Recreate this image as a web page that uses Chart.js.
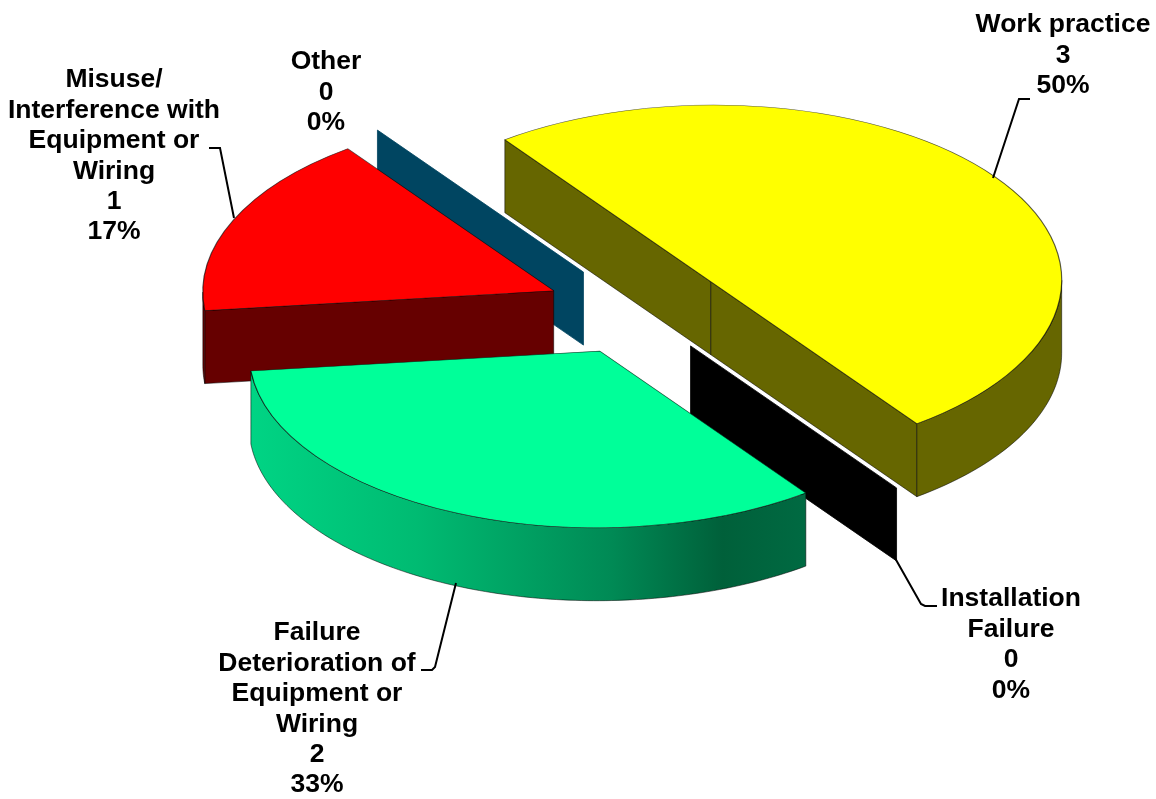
<!DOCTYPE html>
<html>
<head>
<meta charset="utf-8">
<title>Causes</title>
<script src="https://cdn.jsdelivr.net/npm/chart.js@4"></script>
<style>
    html, body { margin: 0; padding: 0; background: #fff; }
    canvas { display: block; }
</style>
</head>
<body>
<canvas id="chart1" width="1156" height="799"></canvas>
<script>
// chart values, clockwise starting from the back edge of the yellow slice
const categories = ['Work practice', 'Installation Failure', 'Failure Deterioration of Equipment or Wiring', 'Misuse/ Interference with Equipment or Wiring', 'Other'];
const counts = [3, 0, 2, 1, 0];
const percents = ['50%', '0%', '33%', '17%', '0%'];

// how the category names wrap in the picture
const labelLines = [
    ['Work practice'],
    ['Installation', 'Failure'],
    ['Failure', 'Deterioration of', 'Equipment or', 'Wiring'],
    ['Misuse/', 'Interference with', 'Equipment or', 'Wiring'],
    ['Other']
];

// styling
const topColors = ['#ffff00', '#000000', '#00ff99', '#ff0000', '#004561'];
const sideColors = ['#666600', '#000000', null, '#660000', '#004561'];
const paintOrder = [4, 1, 0, 3, 2];

// tilt of the pie on the page: where the rim's 0 and 90 degree points land
const pieCenter = { x: 637, y: 309 };
const axisA = { x: 206, y: 142 };
const axisB = { x: -284, y: 105 };
const explode = 0.26;
const depth = 73;

// label placement, first line centre and leader line
const labelX = [1063, 1011, 317, 114, 326];
const labelY = [25, 599, 633, 80, 62];
const lineHeight = 30.4;
const leaders = [
    [[993, 178], [1019, 99], [1030, 99]],
    [[895, 558], [921, 604], [925, 606], [937, 606]],
    [[456, 583], [435, 667], [432, 670], [421, 670]],
    [[234, 218], [220, 148], [209, 148]],
    null
];

function sliceCenter(el) {
    const mid = (el.startAngle + el.endAngle) / 2;
    return {
        x: pieCenter.x + explode * (Math.cos(mid) * axisA.x + Math.sin(mid) * axisB.x),
        y: pieCenter.y + explode * (Math.cos(mid) * axisA.y + Math.sin(mid) * axisB.y)
    };
}

function rimPoint(el, angle) {
    const c = sliceCenter(el);
    return {
        x: c.x + Math.cos(angle) * axisA.x + Math.sin(angle) * axisB.x,
        y: c.y + Math.cos(angle) * axisA.y + Math.sin(angle) * axisB.y
    };
}

function sideFill(ctx, el, i) {
    if (sideColors[i]) return sideColors[i];
    const left = rimPoint(el, el.endAngle).x;
    const right = rimPoint(el, el.startAngle).x;
    const grad = ctx.createLinearGradient(left, 0, right, 0);
    grad.addColorStop(0, '#00d484');
    grad.addColorStop(0.3, '#00bb72');
    grad.addColorStop(0.65, '#008a55');
    grad.addColorStop(0.85, '#00603a');
    grad.addColorStop(1, '#006a42');
    return grad;
}

function drawWall(ctx, a, b, fill) {
    ctx.beginPath();
    ctx.moveTo(a.x, a.y);
    ctx.lineTo(b.x, b.y);
    ctx.lineTo(b.x, b.y + depth);
    ctx.lineTo(a.x, a.y + depth);
    ctx.closePath();
    ctx.fillStyle = fill;
    ctx.fill();
    ctx.stroke();
}

function drawSides(ctx, el, i) {
    const c = sliceCenter(el);
    const fill = sideFill(ctx, el, i);
    ctx.lineWidth = 0.8;
    ctx.strokeStyle = 'rgba(0,0,0,0.65)';

    // slices with no share are only a flat wall along the radius
    if (el.circumference === 0) {
        ctx.strokeStyle = fill;
        drawWall(ctx, c, rimPoint(el, el.startAngle), fill);
        return;
    }

    const inside = rimPoint(el, (el.startAngle + el.endAngle) / 2);
    [el.startAngle, el.endAngle].forEach(function (angle) {
        const rim = rimPoint(el, angle);
        const lineY = c.y + (rim.y - c.y) * (inside.x - c.x) / (rim.x - c.x);
        if (inside.y < lineY) drawWall(ctx, c, rim, fill);
    });

    // curved side, only where it faces the viewer
    const steps = 120;
    const visible = [];
    for (let s = 0; s < steps; s++) {
        const p = rimPoint(el, el.startAngle + el.circumference * s / steps);
        const q = rimPoint(el, el.startAngle + el.circumference * (s + 1) / steps);
        if (q.x < p.x) {
            visible.push(p);
            if (s === steps - 1 || rimPoint(el, el.startAngle + el.circumference * (s + 2) / steps).x >= q.x) visible.push(q);
        }
    }
    if (visible.length < 2) return;
    ctx.beginPath();
    visible.forEach(function (p, n) {
        if (n === 0) ctx.moveTo(p.x, p.y);
        else ctx.lineTo(p.x, p.y);
    });
    for (let n = visible.length - 1; n >= 0; n--) {
        ctx.lineTo(visible[n].x, visible[n].y + depth);
    }
    ctx.closePath();
    ctx.fillStyle = fill;
    ctx.fill();
    ctx.stroke();
}

const tiltedPie = {
    id: 'tiltedPie',
    beforeDatasetDraw(chart, args) {
        const ctx = chart.ctx;
        const arcs = args.meta.data;
        paintOrder.forEach(function (i) {
            drawSides(ctx, arcs[i], i);
        });
        // the library's own arcs, only moved and tilted
        arcs.forEach(function (el) {
            if (el.circumference === 0) return;
            const c = sliceCenter(el);
            const r = el.outerRadius;
            ctx.save();
            ctx.transform(axisA.x / r, axisA.y / r, axisB.x / r, axisB.y / r, c.x, c.y);
            ctx.translate(-el.x, -el.y);
            el.draw(ctx);
            ctx.restore();
        });
        return false;
    },
    afterDraw(chart) {
        const ctx = chart.ctx;
        ctx.save();
        ctx.strokeStyle = '#000';
        ctx.lineWidth = 2;
        leaders.forEach(function (line) {
            if (!line) return;
            ctx.beginPath();
            line.forEach(function (p, n) {
                if (n === 0) ctx.moveTo(p[0], p[1]);
                else ctx.lineTo(p[0], p[1]);
            });
            ctx.stroke();
        });
        ctx.fillStyle = '#000';
        ctx.font = 'bold 26.5px "Liberation Sans"';
        ctx.textAlign = 'center';
        ctx.textBaseline = 'middle';
        labelLines.forEach(function (lines, i) {
            const all = lines.concat([String(counts[i]), percents[i]]);
            all.forEach(function (text, n) {
                ctx.fillText(text, labelX[i], labelY[i] + n * lineHeight);
            });
        });
        ctx.restore();
    }
};

var chart1 = new Chart(document.getElementById('chart1'), {
    type: 'pie',
    data: {
        labels: categories,
        datasets: [{
            data: counts,
            backgroundColor: topColors,
            borderColor: 'rgba(0,0,0,0.65)',
            borderWidth: 1,
            clip: false
        }]
    },
    options: {
        responsive: false,
        animation: false,
        rotation: 270,
        radius: 300,
        plugins: {
            legend: { display: false },
            tooltip: { enabled: false }
        }
    },
    plugins: [tiltedPie]
});
</script>
</body>
</html>
